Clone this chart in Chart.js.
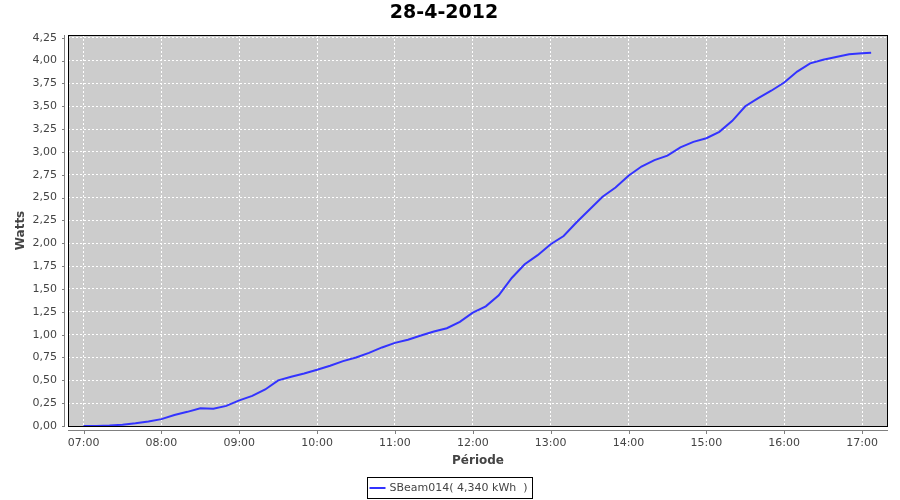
<!DOCTYPE html>
<html lang="fr">
<head>
  <meta charset="UTF-8" />
  <title>28-4-2012</title>
  <script src="https://cdn.jsdelivr.net/npm/chart.js"></script>
  <style>
    body { margin: 0; background: #fff; }
    #wrap { width: 900px; height: 500px; }
  </style>
</head>
<body>
  <div id="wrap"><canvas id="chart" width="900" height="500"></canvas></div>
  <script>
    const times = [
      "07:00", "07:10", "07:20", "07:30", "07:40", "07:50",
      "08:00", "08:10", "08:20", "08:30", "08:40", "08:50",
      "09:00", "09:10", "09:20", "09:30", "09:40", "09:50",
      "10:00", "10:10", "10:20", "10:30", "10:40", "10:50",
      "11:00", "11:10", "11:20", "11:30", "11:40", "11:50",
      "12:00", "12:10", "12:20", "12:30", "12:40", "12:50",
      "13:00", "13:10", "13:20", "13:30", "13:40", "13:50",
      "14:00", "14:10", "14:20", "14:30", "14:40", "14:50",
      "15:00", "15:10", "15:20", "15:30", "15:40", "15:50",
      "16:00", "16:10", "16:20", "16:30", "16:40", "16:50",
      "17:00", "17:07"
    ];
    const watts = [
      0.00, 0.00, 0.005, 0.015, 0.03, 0.05,
      0.075, 0.12, 0.155, 0.195, 0.19, 0.22,
      0.28, 0.33, 0.40, 0.50, 0.54, 0.575,
      0.615, 0.66, 0.71, 0.75, 0.80, 0.86,
      0.91, 0.945, 0.99, 1.035, 1.07, 1.14,
      1.24, 1.31, 1.43, 1.62, 1.77, 1.87,
      1.99, 2.08, 2.23, 2.37, 2.51, 2.61,
      2.74, 2.84, 2.91, 2.96, 3.05, 3.11,
      3.15, 3.22, 3.34, 3.50, 3.59, 3.67,
      3.76, 3.88, 3.97, 4.01, 4.04, 4.07,
      4.08, 4.085
    ];
    const xTickLabels = ["07:00", "08:00", "09:00", "10:00", "11:00", "12:00",
                         "13:00", "14:00", "15:00", "16:00", "17:00"];
    const yTickValues = [0, 0.25, 0.5, 0.75, 1, 1.25, 1.5, 1.75, 2, 2.25,
                         2.5, 2.75, 3, 3.25, 3.5, 3.75, 4, 4.25];
    const seriesLabel = "SBeam014( 4,340 kWh  )";

    const FONT = "'DejaVu Sans', sans-serif";
    const TEXT = "#444444";

    function toMin(s) {
      const p = s.split(":");
      return +p[0] * 60 + +p[1];
    }
    function fmtMin(m) {
      const h = Math.floor(m / 60), mm = m % 60;
      return String(h).padStart(2, "0") + ":" + String(mm).padStart(2, "0");
    }

    const points = times.map((t, i) => ({ x: toMin(t), y: watts[i] }));

    // plot background, border, offset axis lines and the boxed legend
    const jfreeLook = {
      id: "jfreeLook",
      beforeDraw(chart) {
        const { ctx, chartArea: a } = chart;
        ctx.save();
        ctx.fillStyle = "#cccccc";
        ctx.fillRect(a.left, a.top, a.right - a.left, a.bottom - a.top);
        ctx.restore();
      },
      afterDraw(chart) {
        const { ctx, chartArea: a } = chart;
        const xs = chart.scales.x, ys = chart.scales.y;
        ctx.save();
        ctx.strokeStyle = "#000";
        ctx.lineWidth = 1;
        ctx.strokeRect(a.left + 0.5, a.top + 0.5, a.right - a.left - 1, a.bottom - a.top);

        // axis lines drawn a few pixels away from the plot
        ctx.strokeStyle = "#808080";
        ctx.beginPath();
        ctx.moveTo(a.left - 3.5, a.top);
        ctx.lineTo(a.left - 3.5, a.bottom + 1);
        ctx.moveTo(a.left, a.bottom + 4.5);
        ctx.lineTo(a.right, a.bottom + 4.5);
        ys.ticks.forEach(t => {
          const y = Math.round(ys.getPixelForValue(t.value)) + 0.5;
          ctx.moveTo(a.left - 6, y);
          ctx.lineTo(a.left - 3, y);
        });
        xs.ticks.forEach(t => {
          const x = Math.round(xs.getPixelForValue(t.value)) + 0.5;
          ctx.moveTo(x, a.bottom + 5);
          ctx.lineTo(x, a.bottom + 8);
        });
        ctx.stroke();

        // legend
        ctx.font = "11px " + FONT;
        const tw = ctx.measureText(seriesLabel).width;
        const w = 2 + 16 + 4 + tw + 5;
        const left = Math.round(450 - w / 2) + 0.5;
        const top = 477.5, h = 21;
        ctx.strokeStyle = "#000";
        ctx.strokeRect(left, top, Math.round(w), h);
        ctx.strokeStyle = "#3333ff";
        ctx.lineWidth = 2;
        ctx.beginPath();
        ctx.moveTo(left + 2, top + 10.5);
        ctx.lineTo(left + 18, top + 10.5);
        ctx.stroke();
        ctx.fillStyle = TEXT;
        ctx.textBaseline = "middle";
        ctx.fillText(seriesLabel, left + 22, top + 11);
        ctx.restore();
      }
    };

    new Chart(document.getElementById("chart"), {
      type: "line",
      data: {
        datasets: [{
          label: seriesLabel,
          data: points,
          borderColor: "#3333ff",
          borderWidth: 2,
          pointRadius: 0,
          tension: 0,
          fill: false
        }]
      },
      options: {
        responsive: false,
        animation: false,
        layout: { padding: { top: 0, right: 12, bottom: 0, left: 0 } },
        plugins: {
          legend: { display: false },
          tooltip: { enabled: false },
          title: {
            display: true,
            text: "28-4-2012",
            color: "#000",
            font: { family: FONT, size: 19, weight: "bold" },
            padding: { top: 2, bottom: 10.2 }
          }
        },
        scales: {
          x: {
            type: "linear",
            min: 408,
            max: 1040,
            afterBuildTicks(scale) {
              scale.ticks = xTickLabels.map(s => ({ value: toMin(s) }));
            },
            afterFit(scale) { scale.height = 74; },
            grid: { color: "#ffffff", drawTicks: false },
            border: { display: false, dash: [2, 2] },
            ticks: {
              padding: 11,
              color: TEXT,
              font: { family: FONT, size: 11 },
              maxRotation: 0,
              autoSkip: false,
              callback: v => fmtMin(v)
            },
            title: {
              display: true,
              text: "Période",
              color: TEXT,
              font: { family: FONT, size: 12, weight: "bold" },
              padding: { top: 0, bottom: 32 }
            }
          },
          y: {
            min: 0,
            max: 4.28,
            afterBuildTicks(scale) {
              scale.ticks = yTickValues.map(v => ({ value: v }));
            },
            afterFit(scale) { scale.width = 68; },
            grid: { color: "#ffffff", drawTicks: false },
            border: { display: false, dash: [2, 2] },
            ticks: {
              padding: 11,
              color: TEXT,
              font: { family: FONT, size: 11 },
              autoSkip: false,
              callback: v => v.toFixed(2).replace(".", ",")
            },
            title: {
              display: true,
              text: "Watts",
              color: TEXT,
              font: { family: FONT, size: 12, weight: "bold" },
              padding: { top: 14, bottom: 0 }
            }
          }
        }
      },
      plugins: [jfreeLook]
    });
  </script>
</body>
</html>
